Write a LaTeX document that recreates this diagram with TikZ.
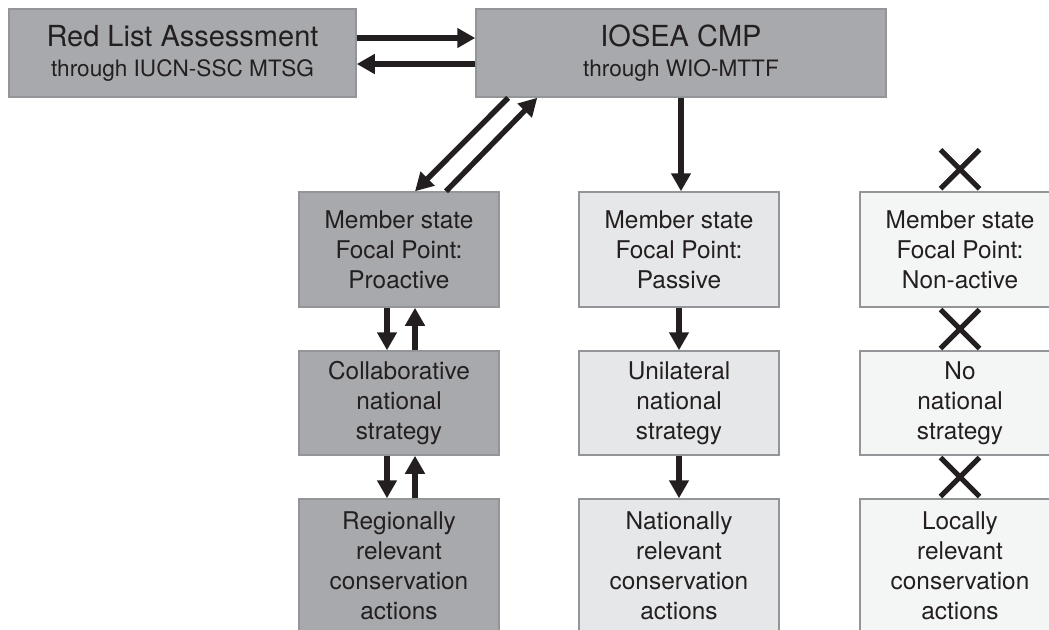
\documentclass[tikz,border=0pt]{standalone}
\usepackage{fontspec}
\setmainfont{TeX Gyre Heros}
\usetikzlibrary{arrows.meta,calc,positioning,shapes.misc}
\definecolor{ink}{HTML}{231F20}
\definecolor{boxline}{HTML}{939598}
\definecolor{darkfill}{HTML}{A7A9AC}
\definecolor{midfill}{HTML}{E6E7E8}
\definecolor{lightfill}{HTML}{F4F5F5}
\newcommand{\headfont}{\fontsize{14.5}{15}\selectfont}
\newcommand{\subfont}{\fontsize{11.3}{15}\selectfont}
\begin{document}
\begin{tikzpicture}[x=0.5pt,y=-0.5pt,
  box/.style={draw=boxline,line width=0.75pt,align=center,inner sep=0pt,
    text=ink,font=\fontsize{12.2}{15}\selectfont,minimum width=100pt},
  headbox/.style={box,fill=darkfill,minimum height=44pt},
  rowone/.style={minimum height=57.5pt},
  rowtwo/.style={minimum height=52pt},
  rowthree/.style={minimum height=67pt},
  arr/.style={draw=ink,line width=2.7pt,-{Triangle[length=9pt,width=9.5pt]}},
  xmark/.style={cross out,draw=ink,line width=2.5pt,minimum size=17pt,inner sep=0pt}]
\clip (0,0) rectangle (1049,629);
% top boxes
\node[headbox,minimum width=173.5pt] (rl) at (182.5,53)
  {\headfont Red List Assessment\\\subfont through IUCN-SSC MTSG};
\node[headbox,minimum width=205pt] (iosea) at (681,53)
  {\headfont IOSEA CMP\\\subfont through WIO-MTTF};
% proactive column
\node[box,rowone,fill=darkfill] (pro) at (399,249.5) {Member state\\Focal Point:\\Proactive};
\node[box,rowtwo,fill=darkfill] (col) at (399,403) {Collaborative\\national\\strategy};
\node[box,rowthree,fill=darkfill] (reg) at (399,566) {Regionally\\relevant\\conservation\\actions};
% passive column
\node[box,rowone,fill=midfill] (pas) at (679,249.5) {Member state\\Focal Point:\\Passive};
\node[box,rowtwo,fill=midfill] (uni) at (679,403) {Unilateral\\national\\strategy};
\node[box,rowthree,fill=midfill] (nat) at (679,566) {Nationally\\relevant\\conservation\\actions};
% non-active column
\node[box,rowone,fill=lightfill] (non) at (960,249.5) {Member state\\Focal Point:\\Non-active};
\node[box,rowtwo,fill=lightfill] (nos) at (960,403) {No\\national\\strategy};
\node[box,rowthree,fill=lightfill] (loc) at (960,566) {Locally\\relevant\\conservation\\actions};
% arrows
\draw[arr] ($(rl.east)+(0,-15)$) -- ($(iosea.west)+(0,-15)$);
\draw[arr] ($(iosea.west)+(0,11)$) -- ($(rl.east)+(0,11)$);
\draw[arr] ($(iosea.south west)+(33,0)$) -- ($(pro.north)+(16,0)$);
\draw[arr] ($(pro.north)+(47,0)$) -- ($(iosea.south west)+(62,0)$);
\draw[arr] (iosea.south) -- (iosea.south |- pas.north);
\draw[arr] ($(pro.south)+(-12,0)$) -- ($(col.north)+(-12,0)$);
\draw[arr] ($(col.north)+(16,0)$) -- ($(pro.south)+(16,0)$);
\draw[arr] ($(col.south)+(-12,0)$) -- ($(reg.north)+(-12,0)$);
\draw[arr] ($(reg.north)+(16,0)$) -- ($(col.south)+(16,0)$);
\draw[arr] (pas.south) -- (uni.north);
\draw[arr] (uni.south) -- (nat.north);
% crosses
\node[xmark] (x1) at ($(non.north)+(0,-22)$) {};
\node[xmark] (x2) at ($(non.south)!0.5!(nos.north)$) {};
\node[xmark] (x3) at ($(nos.south)!0.5!(loc.north)$) {};
\end{tikzpicture}
\end{document}
